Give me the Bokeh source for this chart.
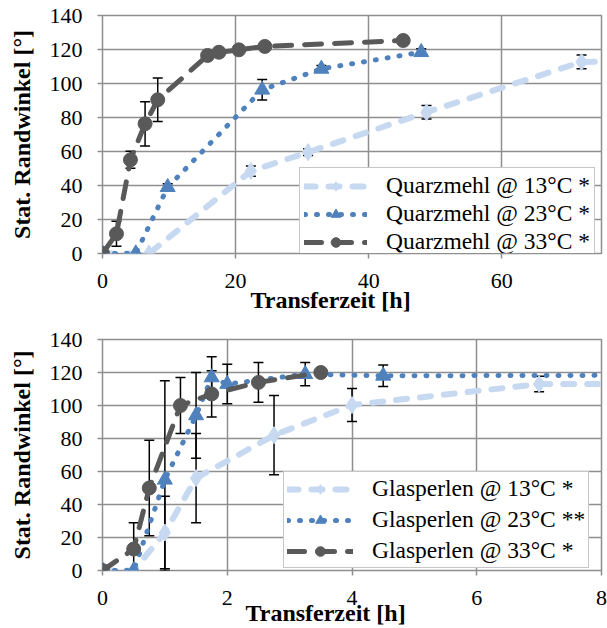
from bokeh.plotting import figure
from bokeh.models import (ColumnDataSource, Whisker, TeeHead, Legend, LegendItem,
                          FixedTicker, Range1d, Title)
from bokeh.layouts import column
from bokeh.embed import file_html
from bokeh.resources import INLINE

# ---------------- data: top chart (Quarzmehl) ----------------
qm_x_ticks = [0, 20, 40, 60]
qm13_x = [0, 7, 22.3, 30.9, 48.7, 72.0, 96]
qm13_y = [0, 0, 48.5, 59.6, 83.1, 112.7, 113.5]
qm13_e = [0, 0, 3, 2, 4, 4, 0]
qm23_x = [0, 5, 9.8, 24.0, 32.9, 47.9]
qm23_y = [0, 0, 39.0, 96.3, 108.6, 118.4]
qm23_e = [0, 0, 2, 6, 2, 2]
qm33_x = [0, 2.1, 4.2, 6.4, 8.3, 15.8, 17.5, 20.5, 24.4, 45.2]
qm33_y = [0, 11.6, 55.1, 76.3, 90.4, 116.5, 118.4, 119.8, 121.8, 125.3]
qm33_e = [0, 7.4, 5, 13, 12.8, 0, 0, 0, 0, 0]
qm_labels = ["Quarzmehl @ 13°C *", "Quarzmehl @ 23°C *", "Quarzmehl @ 33°C *"]

# ---------------- data: bottom chart (Glasperlen) ----------------
gp_x_ticks = [0, 2, 4, 6, 8]
gp13_x = [0, 0.5, 1.0, 1.5, 2.75, 4.0, 7.0, 24]
gp13_y = [0, 0, 23, 56, 82, 100.3, 113, 113.5]
gp13_e = [0, 0, 22, 27, 24, 10, 4.7, 0]
gp23_x = [0, 0.5, 1.0, 1.5, 1.75, 2.0, 3.25, 4.5, 24]
gp23_y = [0, 0, 55, 94, 117, 113, 119, 118, 119.5]
gp23_e = [0, 0, 60, 26, 12.5, 12, 7, 6.5, 0]
gp33_x = [0, 0.5, 0.75, 1.25, 1.75, 2.5, 3.5]
gp33_y = [0, 13, 50, 100, 107, 114, 120]
gp33_e = [0, 16, 29, 17, 14, 12, 0]
gp_labels = ["Glasperlen @ 13°C *", "Glasperlen @ 23°C **", "Glasperlen @ 33°C *"]

y_ticks = [0, 20, 40, 60, 80, 100, 120, 140]

LIGHT = "#C6D9F1"
BLUE = "#4F81BD"
DARK = "#595959"
GRID = "#8f8f8f"
FONT = "'Liberation Serif', 'Times New Roman', serif"

STYLES = [
    dict(color=LIGHT, dash="11 13", width=6, marker="diamond", size=17),
    dict(color=BLUE, dash="1 11", width=5, marker="triangle", size=15),
    dict(color=DARK, dash="17 13", width=5, marker="circle", size=14),
]


def make_fig(height, xmax, xticks, top, bottom, left, right, series, labels,
             leg_loc, leg_spacing, leg_pad, leg_glyph_w, leg_standoff,
             xlab_standoff, title_offset, title_standoff):
    p = figure(width=607, height=height, output_backend="svg", toolbar_location=None,
               x_range=Range1d(0, xmax), y_range=Range1d(0, 140),
               min_border_top=top, min_border_bottom=bottom,
               min_border_left=left, min_border_right=right)
    p.outline_line_color = GRID
    p.outline_line_width = 1.5
    p.background_fill_color = "white"
    p.border_fill_color = "white"
    for ax in (p.xaxis[0], p.yaxis[0]):
        ax.axis_line_color = None
        ax.major_tick_line_color = GRID
        ax.major_tick_line_width = 1.5
        ax.major_tick_out = 5
        ax.major_tick_in = 0
        ax.minor_tick_line_color = None
        ax.major_label_text_font = FONT
        ax.major_label_text_font_size = "22px"
        ax.major_label_text_color = "black"
    p.xaxis.ticker = FixedTicker(ticks=xticks)
    p.yaxis.ticker = FixedTicker(ticks=y_ticks)
    p.xaxis.major_label_standoff = xlab_standoff
    p.yaxis.major_label_standoff = 15
    p.yaxis.axis_label = "Stat. Randwinkel [°]"
    p.yaxis.axis_label_text_font = FONT
    p.yaxis.axis_label_text_font_style = "bold"
    p.yaxis.axis_label_text_font_size = "24px"
    p.yaxis.axis_label_standoff = 12
    p.yaxis.axis_label_text_color = "black"
    for g in (p.xgrid[0], p.ygrid[0]):
        g.grid_line_color = GRID
        g.grid_line_width = 1.5

    t = Title(text="Transferzeit [h]", align="left", offset=title_offset,
              text_font=FONT, text_font_style="bold", text_font_size="24px",
              standoff=title_standoff, text_color="black")
    p.add_layout(t, "below")

    items = []
    for (xs, ys, es), st, lab in zip(series, STYLES, labels):
        src = ColumnDataSource(dict(x=xs, y=ys))
        ln = p.line("x", "y", source=src, line_color=st["color"], line_width=st["width"],
                    line_dash=st["dash"], line_cap="round", line_join="round")
        ex = [x for x, e in zip(xs, es) if e > 0]
        eu = [y + e for y, e in zip(ys, es) if e > 0]
        el = [max(y - e, 0) for y, e in zip(ys, es) if e > 0]
        esrc = ColumnDataSource(dict(x=ex, upper=eu, lower=el))
        w = Whisker(source=esrc, base="x", upper="upper", lower="lower",
                    line_color="black", line_width=1.5,
                    upper_head=TeeHead(size=10, line_color="black", line_width=1.5),
                    lower_head=TeeHead(size=10, line_color="black", line_width=1.5))
        p.add_layout(w)
        sc = p.scatter("x", "y", source=src, marker=st["marker"], size=st["size"],
                       fill_color=st["color"], line_color=st["color"])
        items.append(LegendItem(label=lab, renderers=[ln, sc]))

    leg = Legend(items=items, location=leg_loc)
    leg.label_text_font = FONT
    leg.label_text_font_size = "23.5px"
    leg.label_text_color = "black"
    leg.border_line_color = GRID
    leg.border_line_width = 1.5
    leg.background_fill_color = "white"
    leg.background_fill_alpha = 1.0
    leg.glyph_width = leg_glyph_w
    leg.glyph_height = 24
    leg.label_height = 24
    leg.spacing = leg_spacing
    leg.padding = leg_pad
    leg.margin = 0
    leg.label_standoff = leg_standoff
    p.add_layout(leg, "center")
    return p


p1 = make_fig(316, 75, qm_x_ticks, 15, 63, 100, 6,
              [(qm13_x, qm13_y, qm13_e), (qm23_x, qm23_y, qm23_e), (qm33_x, qm33_y, qm33_e)],
              qm_labels, (197, -7), 1, 4, 63, 19, 15, 148, -11)
p2 = make_fig(312, 8, gp_x_ticks, 23, 58, 102, 5,
              [(gp13_x, gp13_y, gp13_e), (gp23_x, gp23_y, gp23_e), (gp33_x, gp33_y, gp33_e)],
              gp_labels, (181, 2), 4, 3, 66, 19, 15, 143, -19)

layout = column(p1, p2)
open("out.html", "w").write(file_html(layout, INLINE))
